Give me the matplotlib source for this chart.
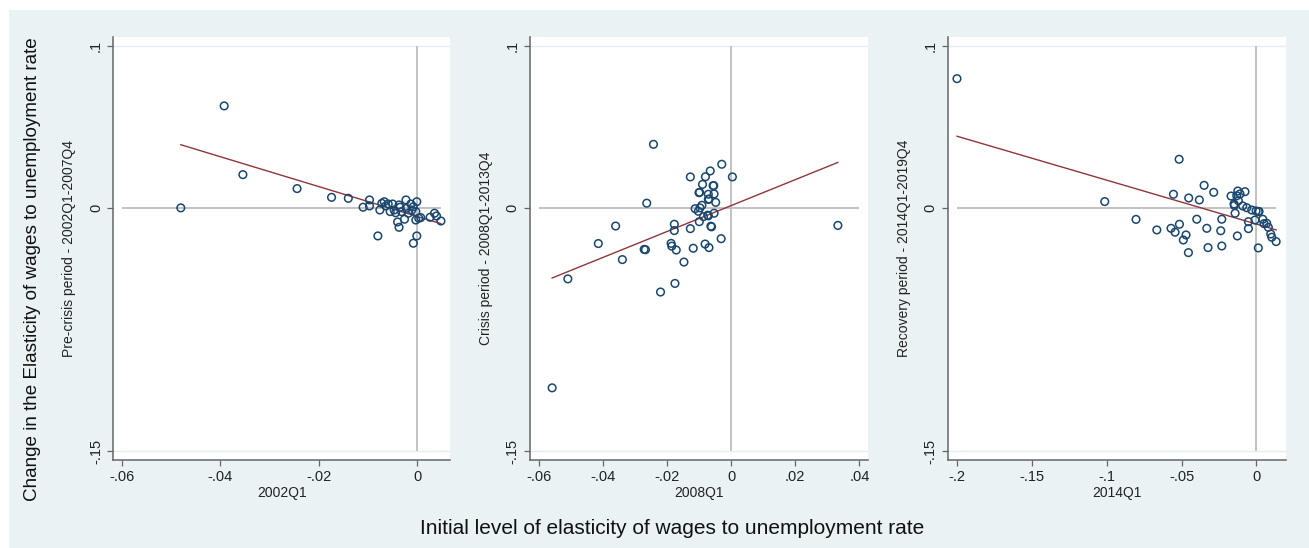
import matplotlib
matplotlib.use("Agg")
import matplotlib.pyplot as plt
import numpy as np

plt.rcParams['font.family'] = ['Liberation Sans', 'DejaVu Sans']

# panel 1: pre-crisis (x = 2002Q1 elasticity, y = change 2002Q1-2007Q4)
pre_x = [-0.0480, -0.0392, -0.0354, -0.0244, -0.0174, -0.0140, -0.0110, -0.0097, -0.0097,
         -0.0080, -0.0076, -0.0072, -0.0067, -0.0064, -0.0059, -0.0055, -0.0050, -0.0047,
         -0.0044, -0.0040, -0.0037, -0.0037, -0.0035, -0.0032, -0.0026, -0.0023, -0.0022,
         -0.0018, -0.0013, -0.0011, -0.0008, -0.0008, -0.0003, -0.0003, -0.0001, -0.0001,
         0.0003, 0.0007, 0.0026, 0.0035, 0.0039, 0.0048]
pre_y = [0.0000, 0.0629, 0.0205, 0.0119, 0.0065, 0.0059, 0.0004, 0.0049, 0.0012,
         -0.0173, -0.0013, 0.0028, 0.0038, 0.0012, 0.0024, -0.0023, 0.0024, -0.0013,
         -0.0030, -0.0087, -0.0120, 0.0018, 0.0004, -0.0023, -0.0070, 0.0049, -0.0003,
         -0.0033, 0.0024, -0.0013, 0.0007, -0.0218, -0.0023, -0.0075, 0.0038, -0.0173,
         -0.0064, -0.0060, -0.0058, -0.0033, -0.0050, -0.0081]

# panel 2: crisis (x = 2008Q1, y = change 2008Q1-2013Q4)
cri_x = [-0.0558, -0.0509, -0.0414, -0.0360, -0.0339, -0.0263, -0.0271, -0.0267, -0.0242,
         -0.0220, -0.0187, -0.0185, -0.0177, -0.0177, -0.0171, -0.0175, -0.0147, -0.0127,
         -0.0127, -0.0118, -0.0112, -0.0102, -0.0097, -0.0091, -0.0100, -0.0098, -0.0099,
         -0.0089, -0.0086, -0.0080, -0.0081, -0.0073, -0.0071, -0.0071, -0.0071, -0.0069,
         -0.0069, -0.0065, -0.0063, -0.0061, -0.0056, -0.0054, -0.0053, -0.0053, -0.0048,
         -0.0031, -0.0029, 0.0004, 0.0333]
cri_y = [-0.1110, -0.0438, -0.0220, -0.0112, -0.0319, 0.0029, -0.0256, -0.0258, 0.0392,
         -0.0519, -0.0219, -0.0236, -0.0101, -0.0140, -0.0260, -0.0466, -0.0334, 0.0191,
         -0.0128, -0.0249, -0.0005, -0.0021, 0.0000, 0.0016, 0.0094, 0.0096, -0.0085,
         0.0145, -0.0054, 0.0192, -0.0223, -0.0045, -0.0049, 0.0084, 0.0052, 0.0055,
         -0.0245, 0.0228, -0.0113, -0.0117, 0.0137, 0.0137, 0.0086, -0.0033, 0.0034,
         -0.0190, 0.0269, 0.0191, -0.0108]

# panel 3: recovery (x = 2014Q1, y = change 2014Q1-2019Q4)
rec_x = [-0.2000, -0.1013, -0.0804, -0.0665, -0.0570, -0.0554, -0.0543, -0.0516, -0.0514,
         -0.0488, -0.0470, -0.0454, -0.0452, -0.0398, -0.0381, -0.0349, -0.0331, -0.0323,
         -0.0285, -0.0238, -0.0231, -0.0231, -0.0169, -0.0149, -0.0142, -0.0147, -0.0131,
         -0.0124, -0.0127, -0.0120, -0.0109, -0.0091, -0.0076, -0.0064, -0.0053, -0.0053,
         -0.0031, -0.0009, -0.0002, 0.0013, 0.0018, 0.0013, 0.0043, 0.0051, 0.0069,
         0.0080, 0.0096, 0.0103, 0.0132]
rec_y = [0.0797, 0.0039, -0.0071, -0.0136, -0.0126, 0.0084, -0.0150, 0.0300, -0.0101,
         -0.0198, -0.0167, -0.0276, 0.0061, -0.0070, 0.0049, 0.0139, -0.0126, -0.0245,
         0.0096, -0.0141, -0.0070, -0.0235, 0.0073, 0.0024, -0.0033, 0.0015, 0.0075,
         0.0104, -0.0173, 0.0044, 0.0086, 0.0012, 0.0100, 0.0001, -0.0085, -0.0128,
         -0.0013, -0.0075, -0.0019, -0.0023, -0.0022, -0.0247, -0.0070, -0.0097, -0.0095,
         -0.0120, -0.0161, -0.0181, -0.0208]

# fitted lines as shown in the chart (intercept, slope)
fits = [(-0.0053, -0.922), (0.0014, 0.80), (-0.0100, -0.271)]

ylabels = ['Pre-crisis period - 2002Q1-2007Q4', 'Crisis period - 2008Q1-2013Q4',
           'Recovery period - 2014Q1-2019Q4']
xlabels = ['2002Q1', '2008Q1', '2014Q1']
xticks = [[-0.06, -0.04, -0.02, 0], [-0.06, -0.04, -0.02, 0, 0.02, 0.04],
          [-0.2, -0.15, -0.1, -0.05, 0]]
xticklabels = [['-.06', '-.04', '-.02', '0'], ['-.06', '-.04', '-.02', '0', '.02', '.04'],
               ['-.2', '-.15', '-.1', '-.05', '0']]
yticks = [-0.15, 0, 0.1]
yticklabels = ['-.15', '0', '.1']

W, H = 1309, 548
fig = plt.figure(figsize=(W / 100, H / 100), dpi=100)
bg = fig.add_axes([9 / W, 0, 1 - 9 / W, 1 - 10 / H], zorder=-10)
bg.set_axis_off()
bg.add_patch(plt.Rectangle((0, 0), 1, 1, transform=bg.transAxes, color='#eaf2f3'))

boxes = [(113.3, 450), (530, 867.7), (947.7, 1285.7)]
xlims = [(-0.0617, 0.00664), (-0.0627, 0.0426), (-0.2062, 0.0196)]
top, bot = 37, 459.5
navy = '#1a476f'
maroon = '#90353b'
data = [(pre_x, pre_y), (cri_x, cri_y), (rec_x, rec_y)]

for i, (xs, ys) in enumerate(data):
    l, r = boxes[i]
    ax = fig.add_axes([l / W, 1 - bot / H, (r - l) / W, (bot - top) / H])
    ax.set_facecolor('white')
    ax.set_xlim(*xlims[i])
    ax.set_ylim(-0.1552, 0.1054)
    xs = np.array(xs)
    ys = np.array(ys)
    xlo = min(xticks[i][0], xs.min())
    xhi = max(xticks[i][-1], xs.max())
    for g in (0.1, -0.15):
        ax.axhline(g, color='#e4eef0', lw=1.0, zorder=1)
    ax.hlines(0, xlo, xhi, color='#bdbdbd', lw=1.3, zorder=2)
    ax.vlines(0, -0.15, 0.1, color='#bdbdbd', lw=1.3, zorder=2)
    a, b = fits[i]
    fx = np.array([xs.min(), xs.max()])
    ax.plot(fx, a + b * fx, color=maroon, lw=1.0, zorder=3)
    ax.scatter(xs, ys, s=30, facecolors='none', edgecolors=navy, linewidths=1.1, zorder=4)
    for s in ('top', 'right'):
        ax.spines[s].set_visible(False)
    for s in ('left', 'bottom'):
        ax.spines[s].set_color('#666666')
        ax.spines[s].set_linewidth(1.1)
    ax.set_xticks(xticks[i])
    ax.set_xticklabels(xticklabels[i])
    ax.set_yticks(yticks)
    ax.set_yticklabels(yticklabels, rotation=90, va='center')
    ax.tick_params(axis='both', length=4.5, width=0.9, color='#666666', labelsize=10.5,
                   labelcolor='#222222')
    ax.tick_params(axis='x', pad=3)
    ax.tick_params(axis='y', pad=3)
    ax.set_xlabel(xlabels[i], fontsize=10, labelpad=1.5, color='#222222')
    ax.set_ylabel(ylabels[i], fontsize=10, labelpad=9, color='#222222')

fig.text(33 / W, 1 - 269 / H, 'Change in the Elasticity of wages to unemployment rate',
         rotation=90, ha='center', va='center', fontsize=13.6, color='#111111')
fig.text(672 / W, 1 - 529 / H, 'Initial level of elasticity of wages to unemployment rate',
         ha='center', va='center', fontsize=15, color='#111111')

fig.savefig('out.png', dpi=100, facecolor='white')
